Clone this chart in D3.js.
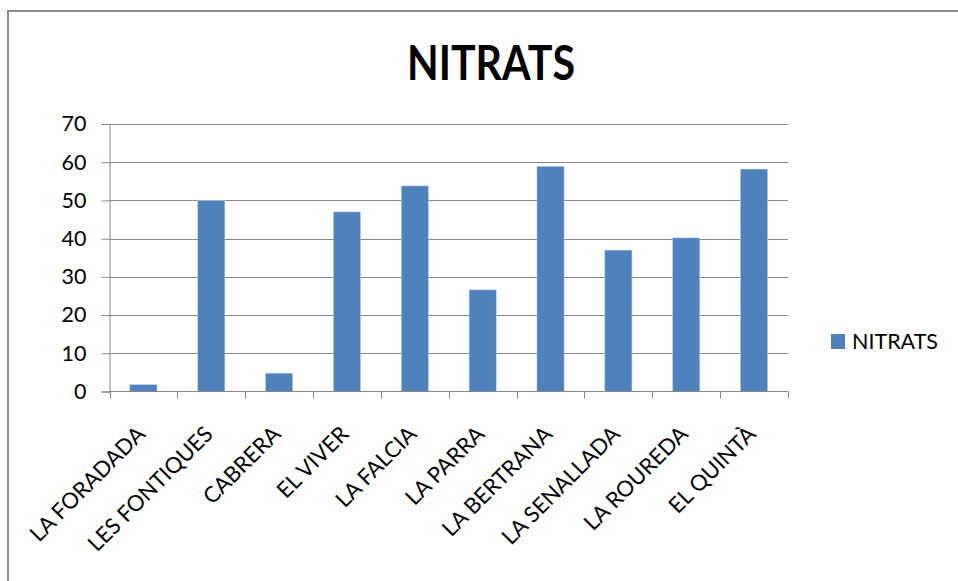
<!DOCTYPE html>
<html>
<head>
<meta charset="utf-8">
<script src="https://cdn.jsdelivr.net/npm/d3@7"></script>
<style>
  html, body { margin: 0; padding: 0; background: #fff; }
  svg { display: block; }
  text { font-family: Lato, "Open Sans", sans-serif; fill: #000; }
</style>
</head>
<body>
<svg id="chart" width="958" height="581"></svg>
<script>
// Nitrate readings per site
const categories = ["LA FORADADA", "LES FONTIQUES", "CABRERA", "EL VIVER", "LA FALCIA",
                    "LA PARRA", "LA BERTRANA", "LA SENALLADA", "LA ROUREDA", "EL QUINTÀ"];
const nitrats = [1.8, 50, 4.8, 47, 53.8, 26.6, 58.9, 37, 40.2, 58.2];
const yTicks = [0, 10, 20, 30, 40, 50, 60, 70];
const seriesName = "NITRATS";
const chartTitle = "NITRATS";

const svg = d3.select("#chart");
const W = 958, H = 581;
const plot = { left: 109.5, right: 788, top: 124, bottom: 391.5 };
const barColor = "#4F81BD";
const gridColor = "#878787";

// outer chart frame
svg.append("rect")
  .attr("x", 8).attr("y", 11)
  .attr("width", W + 10).attr("height", H + 10)
  .attr("fill", "#fff")
  .attr("stroke", "#8a8a8a").attr("stroke-width", 2);

const xOuter = d3.scaleBand().domain(categories).range([plot.left, plot.right]);
const y = d3.scaleLinear().domain([0, 70]).range([plot.bottom, plot.top]);

// horizontal gridlines
svg.append("g").selectAll("line").data(yTicks.filter(d => d > 0)).join("line")
  .attr("x1", plot.left).attr("x2", plot.right)
  .attr("y1", d => Math.round(y(d)) + 0.5).attr("y2", d => Math.round(y(d)) + 0.5)
  .attr("stroke", gridColor).attr("stroke-width", 1);

// bars (gap width 150% of bar width)
svg.append("g").selectAll("rect").data(categories).join("rect")
  .attr("x", d => xOuter(d) + xOuter.bandwidth() * 0.3)
  .attr("width", xOuter.bandwidth() * 0.4)
  .attr("y", (d, i) => y(nitrats[i]))
  .attr("height", (d, i) => y(0) - y(nitrats[i]))
  .attr("fill", barColor)
  .attr("stroke", "#b9cde5").attr("stroke-width", 0.6);

// y axis
const yAxis = d3.axisLeft(y).tickValues(yTicks).tickSize(8).tickPadding(10).tickFormat(d3.format("d"));
const gy = svg.append("g").attr("transform", `translate(${plot.left},0)`).call(yAxis);
gy.select(".domain").attr("stroke", gridColor);
gy.selectAll(".tick line").attr("stroke", gridColor);
gy.selectAll(".tick text").attr("font-size", 21.5).attr("fill", "#000")
  .attr("font-family", "Lato, 'Open Sans', sans-serif").attr("dx", -5);

// x axis line with tick marks at band boundaries
const gx = svg.append("g");
gx.append("line")
  .attr("x1", plot.left).attr("x2", plot.right)
  .attr("y1", plot.bottom).attr("y2", plot.bottom)
  .attr("stroke", gridColor);
const bounds = categories.map(c => xOuter(c)).concat([plot.right]);
gx.selectAll("line.tk").data(bounds).join("line").attr("class", "tk")
  .attr("x1", d => Math.round(d) + 0.5).attr("x2", d => Math.round(d) + 0.5)
  .attr("y1", plot.bottom).attr("y2", plot.bottom + 7)
  .attr("stroke", gridColor);

// rotated category labels
gx.selectAll("text").data(categories).join("text")
  .attr("transform", d => `translate(${xOuter(d) + xOuter.bandwidth() / 2 + 3},${plot.bottom + 44}) rotate(-45)`)
  .attr("text-anchor", "end")
  .attr("font-size", 22)
  .text(d => d);

// title
svg.append("text")
  .attr("x", 491).attr("y", 80)
  .attr("text-anchor", "middle")
  .attr("font-size", 48).attr("font-weight", "bold")
  .attr("textLength", 168).attr("lengthAdjust", "spacingAndGlyphs")
  .text(chartTitle);

// legend
const lg = svg.append("g");
lg.append("rect").attr("x", 831).attr("y", 334).attr("width", 14).attr("height", 15).attr("fill", barColor);
lg.append("text").attr("x", 852).attr("y", 349).attr("font-size", 21.5).text(seriesName);
</script>
</body>
</html>
